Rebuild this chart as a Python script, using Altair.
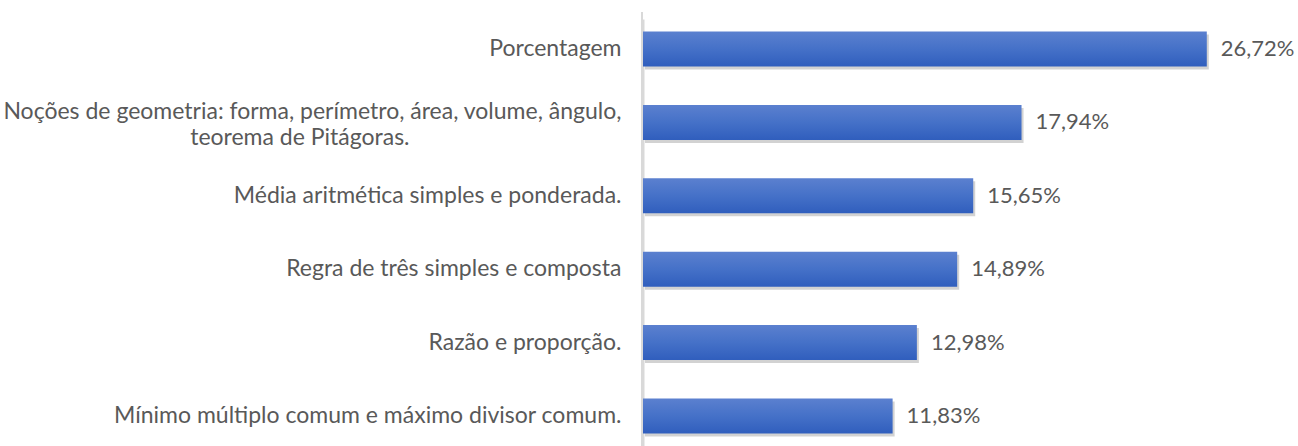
import altair as alt
import pandas as pd

NB = "\u00a0"
categories = [
    "Porcentagem",
    "Noções de geometria: forma, perímetro, área, volume, ângulo,|teorema de Pitágoras." + NB * 36 + "\u200b",
    "Média aritmética simples e ponderada.",
    "Regra de três simples e composta",
    "Razão e proporção.",
    "Mínimo múltiplo comum e máximo divisor comum.",
]
values = [26.72, 17.94, 15.65, 14.89, 12.98, 11.83]

df = pd.DataFrame({"cat": categories, "v": values})

FONT = "Lato"
TXT = "#595959"

y_enc = alt.Y(
    "cat:N",
    sort=None,
    title=None,
    scale=alt.Scale(paddingInner=0.523, paddingOuter=0.17),
    axis=alt.Axis(
        ticks=False,
        labelExpr="split(datum.label, '|')",
        labelFont=FONT,
        labelFontSize=23,
        labelColor=TXT,
        labelPadding=22,
        labelLineHeight=26,
        labelLimit=800,
        labelOffset={"condition": {"test": "indexof(datum.label, '|') >= 0", "value": -10}, "value": 0},
        domainColor="#d9d9d9",
        domainWidth=2,
        grid=False,
    ),
)
x_enc = alt.X("v:Q", title=None, scale=alt.Scale(domain=[0, 30], nice=False), axis=None)

base = alt.Chart(df)

shadow = base.mark_bar(color="#7f7f7f", opacity=0.35, xOffset=2, yOffset=3).encode(x=x_enc, y=y_enc)

bars = base.mark_bar(
    color=alt.Gradient(
        gradient="linear",
        stops=[
            alt.GradientStop(color="#5b80cf", offset=0),
            alt.GradientStop(color="#4571c8", offset=0.5),
            alt.GradientStop(color="#305ebd", offset=1),
        ],
        x1=0, x2=0, y1=0, y2=1,
    )
).encode(x=x_enc, y=y_enc)

labels = base.transform_calculate(
    lbl="replace(format(datum.v, '.2f'), '.', ',') + '%'"
).mark_text(align="left", baseline="middle", dx=14, font=FONT, fontSize=22, color=TXT).encode(
    x=x_enc, y=y_enc, text="lbl:N"
)

axis_line = alt.Chart(pd.DataFrame({"a": [0]})).mark_rule(color="#d9d9d9", strokeWidth=2).encode(
    x=alt.value(-1), y=alt.value(-7), y2=alt.value(427)
)

chart = alt.layer(axis_line, shadow, bars, labels).properties(
    width=633,
    height=427,
    padding={"left": 643, "top": 19, "right": 22, "bottom": 0},
    autosize=alt.AutoSizeParams(type="none"),
).configure_view(stroke=None)

chart.save("out.html", embed_options={"renderer": "svg", "actions": False})
